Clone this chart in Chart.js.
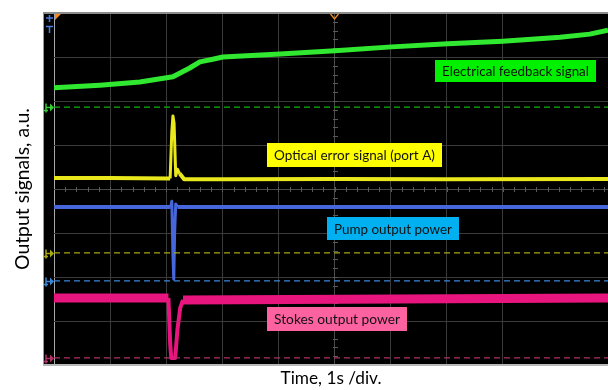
<!DOCTYPE html>
<html>
<head>
<meta charset="utf-8">
<script src="https://cdn.jsdelivr.net/npm/chart.js@4/dist/chart.umd.min.js"></script>
<style>
  html, body { margin: 0; padding: 0; background: #fff; }
</style>
</head>
<body>
<canvas id="scope" width="608" height="390"></canvas>
<script>
// Oscilloscope capture: x in time divisions (1 s / div), y in vertical divisions (0 = bottom, 8 = top)

const feedbackTime  = [0, 0.82, 1.53, 2.12, 2.42, 2.60, 2.83, 3.01, 4.03, 5.01, 6.02, 7.02, 8.0, 9.02, 9.55, 9.875];
const feedbackLevel = [6.30, 6.36, 6.43, 6.55, 6.75, 6.89, 6.95, 7.0, 7.07, 7.14, 7.23, 7.30, 7.36, 7.45, 7.52, 7.61];

const errorTime  = [0, 1.0, 2.07, 2.10, 2.12, 2.14, 2.17, 2.20, 2.24, 2.32, 3.0, 5.0, 7.0, 9.875];
const errorLevel = [4.25, 4.25, 4.24, 5.30, 5.66, 5.50, 4.30, 4.45, 4.35, 4.22, 4.22, 4.23, 4.22, 4.23];

const pumpTime  = [0, 2.08, 2.10, 2.12, 2.135, 2.15, 2.17, 2.20, 9.875];
const pumpLevel = [3.59, 3.59, 3.72, 2.50, 1.95, 3.00, 3.66, 3.59, 3.59];

const stokesTime  = [0, 2.04, 2.07, 2.09, 2.16, 2.20, 2.25, 2.30, 9.875];
const stokesLevel = [1.52, 1.52, 0.50, 0.16, 0.16, 0.80, 1.30, 1.48, 1.52];

// channel ground markers (dashed lines)
const groundLevels = [5.86, 2.55, 1.91, 0.16];

const traceNames = ["Electrical feedback signal", "Optical error signal (port A)", "Pump output power", "Stokes output power"];

const X_MAX = 9.875;
const Y_MAX = 8;

const FONT = "Lato, 'Open Sans', sans-serif";
const COLORS = {
  feedback: "#30e830",
  error: "#e8e81c",
  pump: "#4766dc",
  stokes: "#e8157e",
  gFeedback: "#10b010",
  gError: "#a8a810",
  gPump: "#3a86d8",
  gStokes: "#b03068",
};

const measureCtx = document.createElement("canvas").getContext("2d");
function fitSize(text, width, weight = "normal") {
  measureCtx.font = `${weight} 20px ${FONT}`;
  return 20 * width / measureCtx.measureText(text).width;
}

function pts(xs, ys) { return xs.map((x, i) => ({ x, y: ys[i] })); }
function flat(level) { return [{ x: 0, y: level }, { x: X_MAX, y: level }]; }

const groundColors = [COLORS.gFeedback, COLORS.gError, COLORS.gPump, COLORS.gStokes];

// the fast transient is drawn thinner than the noisy steady trace
const spikeWidth = (wide, thin) => (c) => (c.p0.parsed.x >= 2.03 && c.p1.parsed.x <= 2.31 ? thin : wide);

const datasets = [
  ...groundLevels.map((lv, i) => ({
    data: flat(lv), borderColor: groundColors[i], borderWidth: 1.3, borderDash: [6, 4],
  })),
  { data: pts(feedbackTime, feedbackLevel), borderColor: COLORS.feedback, borderWidth: 5 },
  { data: pts(errorTime, errorLevel), borderColor: COLORS.error, borderWidth: 4, segment: { borderWidth: spikeWidth(4, 3) } },
  { data: pts(pumpTime, pumpLevel), borderColor: COLORS.pump, borderWidth: 4, segment: { borderWidth: spikeWidth(4, 3) } },
  { data: pts(stokesTime, stokesLevel), borderColor: COLORS.stokes, borderWidth: 9, segment: { borderWidth: spikeWidth(9, 4) } },
];

// label boxes: [left, top, width, height, background]
const LABEL_BOXES = [
  [435, 60, 161, 22, "#00f000"],
  [267, 143, 175, 24, "#ffff00"],
  [327, 217, 132, 23, "#00b0f0"],
  [267, 307, 140, 24, "#fd62a0"],
];

const scopePlugin = {
  id: "scope",
  beforeDraw(chart) {
    const { ctx, chartArea: a } = chart;
    ctx.save();
    ctx.fillStyle = "#fff";
    ctx.fillRect(0, 0, chart.width, chart.height);
    ctx.fillStyle = "#000";
    ctx.fillRect(43, a.top, a.right - 43, a.bottom - a.top);
    ctx.strokeStyle = "#9a9a9a";
    ctx.lineWidth = 1;
    ctx.beginPath();
    ctx.moveTo(43.5, a.top);
    ctx.lineTo(43.5, a.bottom);
    ctx.stroke();
    ctx.restore();
  },
  beforeDatasetsDraw(chart) {
    // minor ticks along the centre axes
    const { ctx, scales: { x, y } } = chart;
    ctx.save();
    ctx.strokeStyle = "#5a5a5a";
    ctx.lineWidth = 1;
    ctx.beginPath();
    const cy = Math.round(y.getPixelForValue(4)) + 0.5;
    for (let v = 0.2; v < X_MAX; v += 0.2) {
      const px = Math.round(x.getPixelForValue(v)) + 0.5;
      ctx.moveTo(px, cy - 2.5); ctx.lineTo(px, cy + 2.5);
    }
    const cx = Math.round(x.getPixelForValue(5)) + 0.5;
    for (let v = 0.2; v < Y_MAX; v += 0.2) {
      const py = Math.round(y.getPixelForValue(v)) + 0.5;
      ctx.moveTo(cx - 2.5, py); ctx.lineTo(cx + 2.5, py);
    }
    ctx.stroke();
    ctx.restore();
  },
  afterDatasetsDraw(chart) {
    const { ctx, scales: { x, y }, chartArea: a } = chart;
    ctx.save();

    // label boxes
    LABEL_BOXES.forEach(([l, t, w, h, bg], i) => {
      ctx.fillStyle = bg;
      ctx.fillRect(l, t, w, h);
      const size = Math.min(fitSize(traceNames[i], w - 14), 15);
      ctx.font = `${size}px ${FONT}`;
      ctx.fillStyle = "#111";
      ctx.textAlign = "center";
      ctx.textBaseline = "middle";
      ctx.fillText(traceNames[i], l + w / 2, t + h / 2 + 1);
    });

    // channel markers in the left strip
    groundLevels.forEach((lv, i) => {
      const py = Math.round(y.getPixelForValue(lv)) + 0.5;
      ctx.strokeStyle = groundColors[i].replace("#10b010", "#30d030");
      ctx.fillStyle = ctx.strokeStyle;
      ctx.lineWidth = 1.5;
      ctx.beginPath();
      ctx.moveTo(46, py - 4); ctx.lineTo(46, py + 5);
      ctx.moveTo(44, py + 3); ctx.lineTo(48, py + 3);
      ctx.moveTo(46, py); ctx.lineTo(50, py);
      ctx.stroke();
      ctx.beginPath();
      ctx.moveTo(50, py - 4); ctx.lineTo(54, py); ctx.lineTo(50, py + 4); ctx.closePath();
      ctx.fill();
    });

    // trigger marker (top left)
    ctx.strokeStyle = "#4a7be0";
    ctx.lineWidth = 1.5;
    ctx.beginPath();
    ctx.moveTo(49.5, 15); ctx.lineTo(49.5, 22);
    ctx.moveTo(46, 18); ctx.lineTo(53, 18);
    ctx.moveTo(46, 26.5); ctx.lineTo(53, 26.5);
    ctx.moveTo(49.5, 26); ctx.lineTo(49.5, 33);
    ctx.stroke();

    // time reference markers (top)
    ctx.fillStyle = "#f08a20";
    ctx.beginPath();
    ctx.moveTo(a.left + 1, a.top + 1); ctx.lineTo(a.left + 7, a.top + 1); ctx.lineTo(a.left + 1, a.top + 7);
    ctx.closePath();
    ctx.fill();
    const mx = x.getPixelForValue(5);
    ctx.strokeStyle = "#f08a20";
    ctx.lineWidth = 1.3;
    ctx.beginPath();
    ctx.moveTo(mx - 4, a.top + 1); ctx.lineTo(mx, a.top + 6); ctx.lineTo(mx + 4, a.top + 1);
    ctx.stroke();

    // frame
    ctx.strokeStyle = "#8c8c8c";
    ctx.lineWidth = 2;
    ctx.beginPath();
    ctx.moveTo(43, a.top); ctx.lineTo(a.right, a.top);
    ctx.stroke();
    ctx.strokeStyle = "#b8b8b8";
    ctx.beginPath();
    ctx.moveTo(43, a.bottom); ctx.lineTo(a.right, a.bottom);
    ctx.stroke();
    ctx.restore();
  },
};

function gridColor(c, centre) {
  const v = c.tick.value;
  if (Math.abs(v - Math.round(v)) > 1e-6) return "rgba(0,0,0,0)";
  if (v === 0 && centre === 5) return "#a8a8a8";
  if (v === centre) return "#4a4a4a";
  return "#3a3a3a";
}

new Chart(document.getElementById("scope"), {
  type: "line",
  data: { datasets },
  options: {
    responsive: false,
    animation: false,
    devicePixelRatio: 1,
    parsing: false,
    elements: { point: { radius: 0 }, line: { tension: 0, borderCapStyle: "butt", borderJoinStyle: "round" } },
    layout: { padding: { top: 13, right: 0, bottom: 0, left: 0 } },
    plugins: { legend: { display: false }, tooltip: { enabled: false } },
    scales: {
      x: {
        type: "linear", min: 0, max: X_MAX,
        ticks: { display: false, stepSize: 1 },
        grid: { color: (c) => gridColor(c, 5), drawTicks: false, lineWidth: 1 },
        border: { display: false },
        title: {
          display: true, text: "Time, 1s /div.", color: "#000",
          font: { family: FONT, size: fitSize("Time, 1s /div.", 101), lineHeight: 1.2 },
          padding: { top: 0, bottom: 1 },
        },
        afterFit: (s) => { s.height = 25; },
      },
      y: {
        type: "linear", min: 0, max: Y_MAX,
        ticks: { display: false, stepSize: 1 },
        grid: { color: (c) => gridColor(c, 4), drawTicks: false, lineWidth: 1 },
        border: { display: false },
        title: {
          display: true, text: "Output signals, a.u.", color: "#000",
          font: { family: FONT, size: fitSize("Output signals, a.u.", 162), lineHeight: 1.2 },
          padding: { top: 11, bottom: 0 },
        },
        afterFit: (s) => { s.width = 54; },
      },
    },
  },
  plugins: [scopePlugin],
});
</script>
</body>
</html>
